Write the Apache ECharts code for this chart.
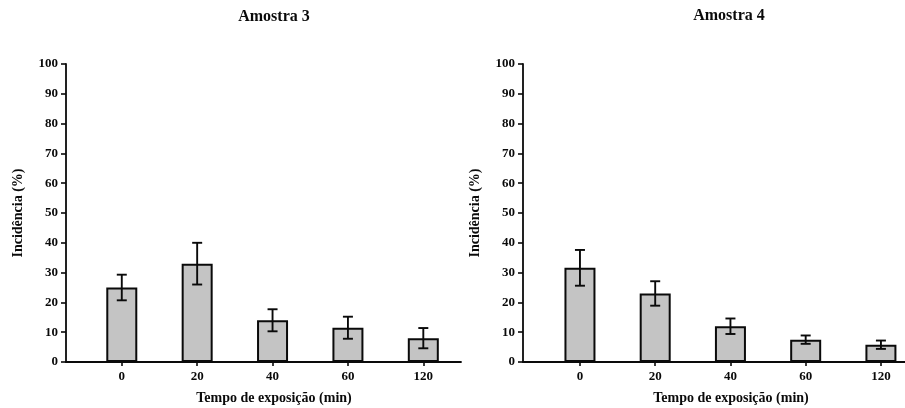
<!DOCTYPE html>
<html>
<head>
<meta charset="utf-8">
<script src="https://cdn.jsdelivr.net/npm/echarts@6/dist/echarts.min.js"></script>
<style>
  html, body { margin: 0; padding: 0; background: #fff; }
  #chart { width: 905px; height: 408px; }
</style>
</head>
<body>
<div id="chart"></div>
<script>
// Exposure times (min)
const categories = ['0', '20', '40', '60', '120'];
// Incidence (%) means and error half-widths
const amostra3Mean = [25, 33, 14, 11.5, 8];
const amostra3Err = [4.3, 7, 3.7, 3.7, 3.4];
const amostra4Mean = [31.6, 23, 12, 7.5, 5.8];
const amostra4Err = [6, 4.1, 2.6, 1.4, 1.4];

const serif = '"Liberation Serif", "Times New Roman", serif';
const ink = '#0a0a0a';

function xAxisFor(gridIndex, min, max) {
  return {
    type: 'value', gridIndex, min, max,
    splitLine: { show: false },
    axisLine: { show: true, onZero: false, lineStyle: { color: ink, width: 1.8 } },
    axisTick: { show: true, length: 4, lineStyle: { color: ink, width: 1.6 }, customValues: [0, 1, 2, 3, 4] },
    axisLabel: {
      customValues: [0, 1, 2, 3, 4],
      formatter: v => categories[Math.round(v)],
      margin: 8, color: ink, fontFamily: serif, fontWeight: 'bold', fontSize: 13
    }
  };
}

function yAxisFor(gridIndex) {
  return {
    type: 'value', gridIndex, min: 0, max: 100, interval: 10,
    name: 'Incidência (%)', nameLocation: 'middle', nameGap: 41, nameRotate: 90,
    nameTextStyle: { color: ink, fontFamily: serif, fontWeight: 'bold', fontSize: 14 },
    splitLine: { show: false },
    axisLine: { show: true, onZero: false, lineStyle: { color: ink, width: 1.8 } },
    axisTick: { show: true, length: 5, lineStyle: { color: ink, width: 1.6 } },
    axisLabel: { margin: 8, color: ink, fontFamily: serif, fontWeight: 'bold', fontSize: 13 }
  };
}

function barSeries(idx, means) {
  return {
    type: 'bar', xAxisIndex: idx, yAxisIndex: idx,
    barWidth: 31,
    itemStyle: { color: '#c4c4c4', borderColor: ink, borderWidth: 2 },
    data: means.map((v, i) => [i, v]),
    z: 2
  };
}

function errorSeries(idx, means, errs) {
  return {
    type: 'custom', xAxisIndex: idx, yAxisIndex: idx,
    data: means.map((v, i) => [i, v - errs[i], v + errs[i]]),
    renderItem: function (params, api) {
      const lo = api.coord([api.value(0), api.value(1)]);
      const hi = api.coord([api.value(0), api.value(2)]);
      const half = 5;
      const style = { stroke: ink, lineWidth: 1.9 };
      return {
        type: 'group',
        children: [
          { type: 'line', shape: { x1: lo[0], y1: lo[1], x2: hi[0], y2: hi[1] }, style },
          { type: 'line', shape: { x1: hi[0] - half, y1: hi[1], x2: hi[0] + half, y2: hi[1] }, style },
          { type: 'line', shape: { x1: lo[0] - half, y1: lo[1], x2: lo[0] + half, y2: lo[1] }, style }
        ]
      };
    },
    z: 3
  };
}

function label(text, x, y, size) {
  return {
    type: 'text', x, y,
    style: {
      text, fill: ink, textAlign: 'center', textVerticalAlign: 'middle',
      font: 'bold ' + size + 'px ' + serif
    }
  };
}

const chart = echarts.init(document.getElementById('chart'), null, { renderer: 'canvas' });
chart.setOption({
  backgroundColor: '#ffffff',
  animation: false,
  grid: [
    { left: 66, top: 64, width: 395, height: 298 },
    { left: 523, top: 64, width: 382, height: 298 }
  ],
  xAxis: [xAxisFor(0, -0.74, 4.5), xAxisFor(1, -0.757, 4.32)],
  yAxis: [yAxisFor(0), yAxisFor(1)],
  series: [
    barSeries(0, amostra3Mean),
    errorSeries(0, amostra3Mean, amostra3Err),
    barSeries(1, amostra4Mean),
    errorSeries(1, amostra4Mean, amostra4Err)
  ],
  graphic: [
    label('Amostra 3', 274, 17, 16),
    label('Amostra 4', 729, 16, 16),
    label('Tempo de exposição (min)', 274, 398, 14),
    label('Tempo de exposição (min)', 731, 398, 14)
  ]
});
</script>
</body>
</html>
